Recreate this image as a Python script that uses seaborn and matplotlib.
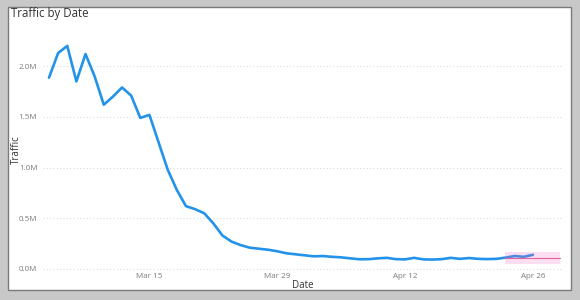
import matplotlib
matplotlib.use("Agg")
import matplotlib.pyplot as plt
import matplotlib.dates as mdates
from matplotlib.patches import Rectangle
from matplotlib.ticker import FuncFormatter
import seaborn as sns
import pandas as pd
import numpy as np

# ---- data ----
start_date = "2020-03-04"
traffic = [1.887, 2.13, 2.20, 1.85, 2.12, 1.90, 1.62, 1.70, 1.79, 1.71,
           1.49, 1.52, 1.25, 0.98, 0.78, 0.62, 0.59, 0.55, 0.45, 0.33,
           0.27, 0.235, 0.21, 0.20, 0.19, 0.175, 0.155, 0.145, 0.135, 0.125,
           0.128, 0.12, 0.115, 0.105, 0.096, 0.097, 0.105, 0.11, 0.097, 0.095,
           0.11, 0.095, 0.093, 0.097, 0.11, 0.10, 0.108, 0.10, 0.098, 0.10,
           0.112, 0.128, 0.12, 0.14]  # millions
forecast_start = "2020-04-23"
forecast = [0.105, 0.105, 0.105, 0.105, 0.105, 0.105, 0.105]
forecast_lower = [0.05, 0.05, 0.05, 0.05, 0.05, 0.05, 0.05]
forecast_upper = [0.165, 0.165, 0.165, 0.165, 0.165, 0.165, 0.165]
tick_dates = ["2020-03-15", "2020-03-29", "2020-04-12", "2020-04-26"]
y_ticks = [0.0, 0.5, 1.0, 1.5, 2.0]

dates = pd.date_range(start_date, periods=len(traffic), freq="D")
df = pd.DataFrame({"Date": dates, "Traffic": traffic})
fdates = pd.date_range(forecast_start, periods=len(forecast), freq="D")
fdf = pd.DataFrame({"Date": fdates, "Traffic": forecast,
                    "lo": forecast_lower, "hi": forecast_upper})

sns.set_theme(style="white")
plt.rcParams['font.family'] = ['Open Sans', 'DejaVu Sans']

W, H = 580, 300
fig = plt.figure(figsize=(W / 100, H / 100), dpi=100)
fig.patch.set_facecolor("#c8c8c8")

# white panel with border
fig.patches.append(Rectangle((8 / W, 1 - 290 / H), (571 - 8) / W, (290 - 7) / H,
                             transform=fig.transFigure, facecolor="white",
                             edgecolor="#7a7a7a", linewidth=1.0, zorder=-5))

ax = fig.add_axes([43 / W, 1 - 272 / H, (563 - 43) / W, (272 - 30) / H])
ax.set_zorder(2)
ax.patch.set_alpha(0)

sns.lineplot(data=df, x="Date", y="Traffic", ax=ax, color="#2393EA",
             linewidth=1.9, zorder=3)
ax.fill_between(fdf["Date"], fdf["lo"], fdf["hi"], color="#F06BB8",
                alpha=0.22, linewidth=0, zorder=4)
sns.lineplot(data=fdf, x="Date", y="Traffic", ax=ax, color="#E8609F",
             linewidth=0.8, zorder=5)

# axis ranges
d0 = mdates.date2num(pd.Timestamp(start_date))
ax.set_xlim(d0 - 0.657, d0 + 56.3)
ax.set_ylim(-0.0296, 2.357)

ax.set_xticks([mdates.date2num(pd.Timestamp(d)) for d in tick_dates])
ax.xaxis.set_major_formatter(mdates.DateFormatter("%b %d"))
ax.set_yticks(y_ticks)
ax.yaxis.set_major_formatter(FuncFormatter(lambda v, p: f"{v:.1f}M"))

ax.tick_params(axis="both", length=0, labelsize=5.8, colors="#7a7a7a")
ax.tick_params(axis="x", pad=1)
ax.tick_params(axis="y", pad=4)
ax.grid(axis="y", color="#dddddd", linestyle=(0, (1, 2)), linewidth=0.8)
ax.grid(axis="x", visible=False)
for s in ax.spines.values():
    s.set_visible(False)

ax.set_xlabel("")
ax.set_ylabel("")
fig.text(303 / W, 1 - 286 / H, "Date", fontsize=7, color="#333333",
         ha="center", va="center")
fig.text(16 / W, 1 - 150 / H, "Traffic", fontsize=7, color="#333333",
         ha="center", va="center", rotation=90)
fig.text(11 / W, 1 - 14 / H, "Traffic by Date", fontsize=8.3, color="#333333",
         ha="left", va="center")

fig.savefig("out.png", dpi=100, facecolor=fig.get_facecolor())
